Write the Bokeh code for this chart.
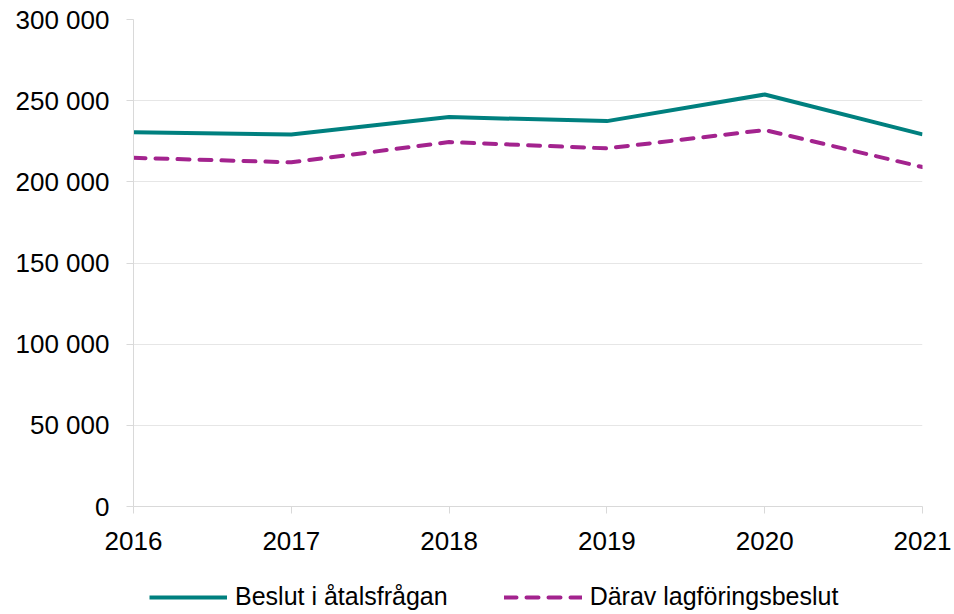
from bokeh.plotting import figure
from bokeh.models import Legend, LegendItem, FixedTicker
from bokeh.layouts import column
from bokeh.embed import file_html
from bokeh.resources import INLINE

years = [2016, 2017, 2018, 2019, 2020, 2021]
beslut = [230600, 229200, 239900, 237400, 253800, 229200]
lagforing = [214800, 212000, 224500, 220600, 231900, 209100]
y_ticks = [0, 50000, 100000, 150000, 200000, 250000, 300000]
y_tick_labels = ["0", "50 000", "100 000", "150 000", "200 000", "250 000", "300 000"]
series_names = ["Beslut i åtalsfrågan", "Därav lagföringsbeslut"]

FONT = "Liberation Sans"
TEAL = "#00807F"
PURPLE = "#A3238E"
DASH = "12 10"

p = figure(width=954, height=572, output_backend="svg", toolbar_location=None,
           x_range=(2016, 2021), y_range=(0, 300000),
           min_border_left=133, min_border_right=32, min_border_top=19,
           min_border_bottom=66)
p.outline_line_color = None
p.background_fill_color = "white"
p.border_fill_color = "white"

r1 = p.line(years, beslut, line_color=TEAL, line_width=4, line_join="round")
r2 = p.line(years, lagforing, line_color=PURPLE, line_width=4,
            line_dash=DASH, line_cap="round", line_join="round")

p.xgrid.grid_line_color = None
p.ygrid.grid_line_color = "#E6E6E6"
p.ygrid.grid_line_width = 1

p.yaxis.ticker = FixedTicker(ticks=y_ticks)
p.yaxis.major_label_overrides = {t: l for t, l in zip(y_ticks, y_tick_labels)}
p.xaxis.ticker = FixedTicker(ticks=years)
p.xaxis.major_label_overrides = {y: str(y) for y in years}

for ax in (p.xaxis[0], p.yaxis[0]):
    ax.axis_line_color = "#D9D9D9"
    ax.axis_line_width = 1
    ax.major_tick_line_color = "#D9D9D9"
    ax.major_tick_in = 0
    ax.major_tick_out = 7
    ax.minor_tick_line_color = None
    ax.major_label_text_font = FONT
    ax.major_label_text_font_size = "26px"
    ax.major_label_text_color = "black"
p.yaxis.major_label_standoff = 17
p.xaxis.major_label_standoff = 18

# legend strip below the chart (its frame is aligned with the chart frame)
lg = figure(width=954, height=42, output_backend="svg", toolbar_location=None,
            x_range=(0, 1), y_range=(0, 1),
            x_axis_location=None, y_axis_location=None,
            min_border_left=0, min_border_right=0, min_border_top=0,
            min_border_bottom=0)
lg.outline_line_color = None
lg.xgrid.grid_line_color = None
lg.ygrid.grid_line_color = None
# legend-only proxies, placed outside the visible range
l1 = lg.line(years[:2], beslut[:2], line_color=TEAL, line_width=4)
l2 = lg.line(years[:2], lagforing[:2], line_color=PURPLE, line_width=4,
             line_dash=DASH, line_cap="round")

legend = Legend(items=[LegendItem(label=series_names[0], renderers=[l1]),
                       LegendItem(label=series_names[1], renderers=[l2])],
                location=(16, 3), orientation="horizontal",
                label_text_font=FONT, label_text_font_size="25px",
                label_text_color="black",
                glyph_width=78, glyph_height=20, label_standoff=8, spacing=56,
                padding=0, margin=0, border_line_color=None,
                background_fill_alpha=0)
lg.add_layout(legend, "center")

layout = column(p, lg, spacing=0)
open("out.html", "w").write(file_html(layout, INLINE))
